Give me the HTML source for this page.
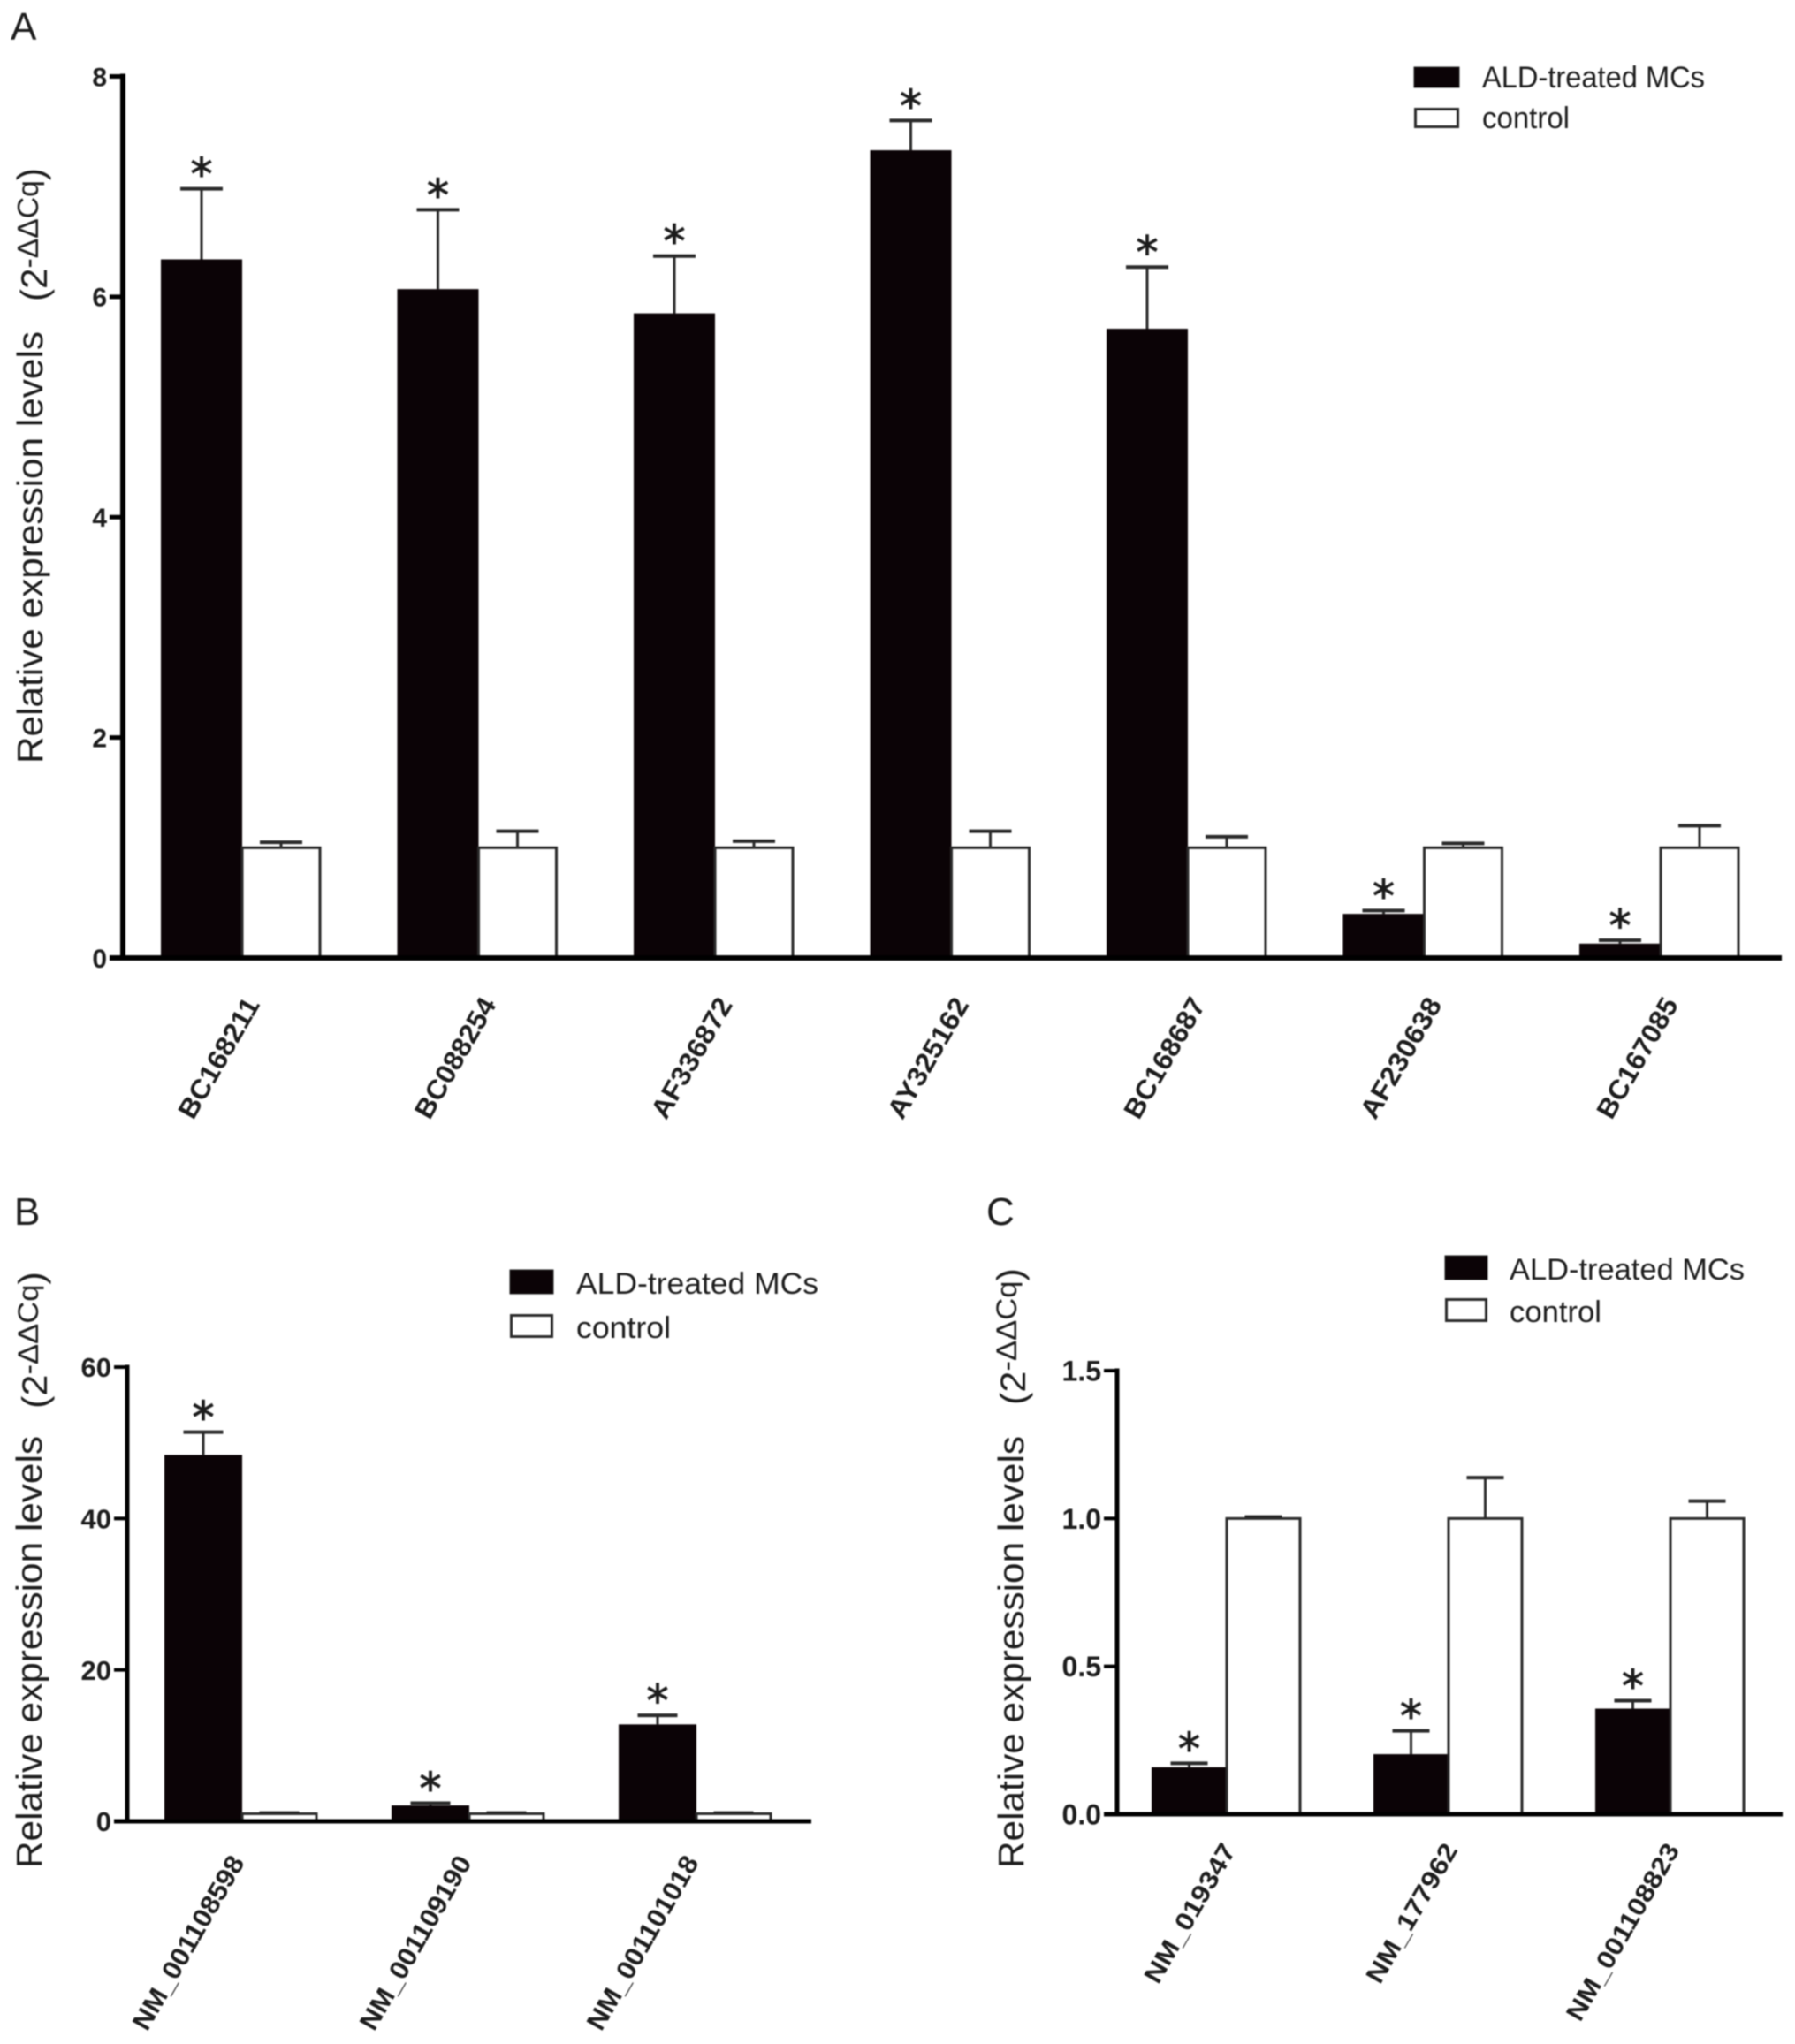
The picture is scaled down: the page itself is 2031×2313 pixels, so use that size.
<!DOCTYPE html>
<html>
<head>
<meta charset="utf-8">
<title>Relative expression levels</title>
<style>
html,body{margin:0;padding:0;background:#fff;width:2031px;height:2313px;overflow:hidden}
svg{display:block;filter:blur(0.7px)}
text{font-family:"Liberation Sans",sans-serif;fill:#1c1c1c}
</style>
</head>
<body>
<svg id="fig" xmlns="http://www.w3.org/2000/svg" width="2031" height="2313" viewBox="0 0 2031 2313">
<rect width="2031" height="2313" fill="#fff"/>
</svg>
<script>
var categoriesA = ['BC168211','BC088254','AF336872','AY325162','BC168687','AF230638','BC167085'];
var treatedA = [6.34,6.07,5.85,7.33,5.71,0.40,0.13];
var treatedErrTopA = [6.98,6.79,6.37,7.60,6.27,0.43,0.16];
var controlA = [1,1,1,1,1,1,1];
var controlErrTopA = [1.05,1.15,1.06,1.15,1.10,1.04,1.20];
var ticksA = [0,2,4,6,8];
var tickLabelsA = ['0','2','4','6','8'];

var categoriesB = ['NM_001108598','NM_001109190','NM_001101018'];
var treatedB = [48.4,2.1,12.8];
var treatedErrTopB = [51.4,2.4,14.0];
var controlB = [1,1,1];
var controlErrTopB = [1.1,1.1,1.1];
var ticksB = [0,20,40,60];
var tickLabelsB = ['0','20','40','60'];

var categoriesC = ['NM_019347','NM_177962','NM_001108823'];
var treatedC = [0.159,0.203,0.357];
var treatedErrTopC = [0.172,0.282,0.384];
var controlC = [1,1,1];
var controlErrTopC = [1.005,1.138,1.059];
var ticksC = [0,0.5,1.0,1.5];
var tickLabelsC = ['0.0','0.5','1.0','1.5'];

var svg = document.getElementById('fig');
var NS = 'http://www.w3.org/2000/svg';
var INK = '#0b0306';
var LINE = '#2a2a2a';

function make(tag, attrs, parent, txt) {
  var el = document.createElementNS(NS, tag);
  for (var k in attrs) el.setAttribute(k, attrs[k]);
  if (txt !== undefined) el.textContent = txt;
  (parent || svg).appendChild(el);
  return el;
}

function drawPanel(p) {
  var g = make('g', {}, svg);
  
  
  function yScale(v) { return p.y0 - v * (p.y0 - p.yTop) / p.max; }
  function xScale(i) { return p.x0 + i * p.step; }

  var letter = make('text', {x: p.letterX, y: p.letterY, 'font-size': 44}, g, p.letter);
  
  

  p.categories.forEach(function (cat, i) {
    var x = xScale(i);
    var cx1 = x + p.bw1 / 2;
    var cx2 = x + p.bw1 + p.bw2 / 2;

    // treated error bar
    var e1 = make('line', {x1: cx1, x2: cx1, y1: yScale(p.treated[i]), y2: yScale(p.treatedErr[i]), stroke: LINE, 'stroke-width': 3}, g);
    
    
    var c1 = make('line', {x1: cx1 - p.cap / 2, x2: cx1 + p.cap / 2, y1: yScale(p.treatedErr[i]), y2: yScale(p.treatedErr[i]), stroke: LINE, 'stroke-width': 4}, g);
    
    

    // control error bar
    var e2 = make('line', {x1: cx2, x2: cx2, y1: yScale(p.control[i]), y2: yScale(p.controlErr[i]), stroke: LINE, 'stroke-width': 3}, g);
    
    
    var c2 = make('line', {x1: cx2 - p.cap / 2, x2: cx2 + p.cap / 2, y1: yScale(p.controlErr[i]), y2: yScale(p.controlErr[i]), stroke: LINE, 'stroke-width': 4}, g);
    
    

    // bars
    var b1 = make('rect', {x: x, y: yScale(p.treated[i]), width: p.bw1, height: p.y0 - yScale(p.treated[i]), fill: INK}, g);
    
    
    var b2 = make('rect', {x: x + p.bw1, y: yScale(p.control[i]), width: p.bw2, height: p.y0 - yScale(p.control[i]), fill: '#fff', stroke: LINE, 'stroke-width': 3}, g);
    
    

    // significance asterisk
    var star = make('text', {x: cx1, y: yScale(p.treatedErr[i]) - 25 + 26, 'font-size': 50, 'text-anchor': 'middle', stroke: '#1c1c1c', 'stroke-width': 1, style: 'font-family:"DejaVu Sans",sans-serif'}, g, '*');
    
    

    // category label
    var lx = x + p.bw1 + p.labelDx;
    var lab = make('text', {
      transform: 'translate(' + lx + ',' + p.labelY + ') rotate(-60)',
      'text-anchor': 'end', dy: '0.36em', 'font-size': p.labelSize, 'font-weight': 'bold',
      textLength: p.labelLen(cat), lengthAdjust: 'spacingAndGlyphs'
    }, g, cat);
    
    
  });

  // axes
  var ya = make('line', {x1: p.axisX, x2: p.axisX, y1: yScale(p.max) - p.axisW / 2, y2: p.y0 + p.axisW / 2, stroke: '#000', 'stroke-width': p.axisW}, g);
  
  
  var xa = make('line', {x1: p.axisX - p.tickLen, x2: p.axisEnd, y1: p.y0, y2: p.y0, stroke: '#000', 'stroke-width': p.axisW}, g);
  
  

  p.ticks.forEach(function (t, i) {
    var ty = yScale(t);
    var tk = make('line', {x1: p.axisX - p.tickLen, x2: p.axisX, y1: ty, y2: ty, stroke: '#000', 'stroke-width': p.axisW - 1}, g);
    
    
    var tl = make('text', {x: p.axisX - p.tickLen - 3, y: ty + p.tickSize * 0.36, 'font-size': p.tickSize, 'font-weight': 'bold', 'text-anchor': 'end'}, g, p.tickLabels[i]);
    
    
  });

  // y-axis titles
  var yt = make('text', {
    transform: 'translate(' + p.titleX + ',' + p.titleY + ') rotate(-90)',
    'font-size': 41, textLength: p.titleLen, lengthAdjust: 'spacingAndGlyphs'
  }, g, 'Relative expression levels');
  
  

  var un = make('text', {
    transform: 'translate(' + p.unitX + ',' + p.unitY + ') rotate(-90)',
    'font-size': p.unitSize, textLength: p.unitLen, lengthAdjust: 'spacingAndGlyphs'
  }, g);
  
  
  make('tspan', {}, un, '(2');
  make('tspan', {dy: -10, 'font-size': p.unitSize * 0.8}, un, '-ΔΔCq');
  make('tspan', {dy: 6}, un, ')');

  // legend
  var lg = make('g', {}, g);
  
  
  var s1 = make('rect', {x: p.legX, y: p.legY1, width: p.legW, height: p.legH, fill: INK, stroke: '#222', 'stroke-width': 1}, lg);
  
  
  var s2 = make('rect', {x: p.legX + 1.5, y: p.legY2 + 1.5, width: p.legW - 3, height: p.legH - 3, fill: '#fff', stroke: '#2a2a2a', 'stroke-width': 3}, lg);
  
  
  var t1 = make('text', {x: p.legTX, y: p.legY1 + p.legH, 'font-size': 34, textLength: p.legLen1, lengthAdjust: 'spacingAndGlyphs'}, lg, 'ALD-treated MCs');
  
  
  var t2 = make('text', {x: p.legTX, y: p.legY2 + p.legH, 'font-size': 34, textLength: p.legLen2, lengthAdjust: 'spacingAndGlyphs'}, lg, 'control');
  
  
}

drawPanel({
  id: 'a', letter: 'A', letterX: 12, letterY: 45,
  categories: categoriesA, treated: treatedA, treatedErr: treatedErrTopA, control: controlA, controlErr: controlErrTopA,
  ticks: ticksA, tickLabels: tickLabelsA, max: 8,
  y0: 1084, yTop: 86.5, x0: 182, step: 267.5, bw1: 92, bw2: 88, cap: 48,
  axisX: 139, axisEnd: 2016, axisW: 6, tickLen: 15, tickSize: 30,
  labelDx: 11, labelY: 1131, labelSize: 31, labelLen: function () { return 152; },
  titleX: 48, titleY: 864, titleLen: 489, unitX: 53, unitY: 341, unitLen: 151, unitSize: 42,
  legX: 1600, legY1: 76, legY2: 122, legW: 51, legH: 23, legTX: 1677, legLen1: 252, legLen2: 99
});

drawPanel({
  id: 'b', letter: 'B', letterX: 16, letterY: 1386,
  categories: categoriesB, treated: treatedB, treatedErr: treatedErrTopB, control: controlB, controlErr: controlErrTopB,
  ticks: ticksB, tickLabels: tickLabelsB, max: 60,
  y0: 2061, yTop: 1547, x0: 186, step: 257, bw1: 88, bw2: 84, cap: 45,
  axisX: 144, axisEnd: 918, axisW: 5, tickLen: 15, tickSize: 31,
  labelDx: -6, labelY: 2102, labelSize: 30, labelLen: function () { return 222; },
  titleX: 47, titleY: 2114, titleLen: 489, unitX: 53, unitY: 1594, unitLen: 155, unitSize: 40,
  legX: 577, legY1: 1437, legY2: 1487, legW: 49, legH: 27, legTX: 652, legLen1: 274, legLen2: 107
});

drawPanel({
  id: 'c', letter: 'C', letterX: 1116, letterY: 1386,
  categories: categoriesC, treated: treatedC, treatedErr: treatedErrTopC, control: controlC, controlErr: controlErrTopC,
  ticks: ticksC, tickLabels: tickLabelsC, max: 1.5,
  y0: 2053, yTop: 1551, x0: 1303, step: 251, bw1: 85, bw2: 83, cap: 42,
  axisX: 1264, axisEnd: 2017, axisW: 5, tickLen: 15, tickSize: 32,
  labelDx: 2, labelY: 2088, labelSize: 29, labelLen: function (c) { return c.length > 10 ? 226 : 177; },
  titleX: 1158, titleY: 2114, titleLen: 489, unitX: 1160, unitY: 1590, unitLen: 155, unitSize: 40,
  legX: 1635, legY1: 1421, legY2: 1469, legW: 48, legH: 27, legTX: 1708, legLen1: 266, legLen2: 104
});
</script>
</body>
</html>
